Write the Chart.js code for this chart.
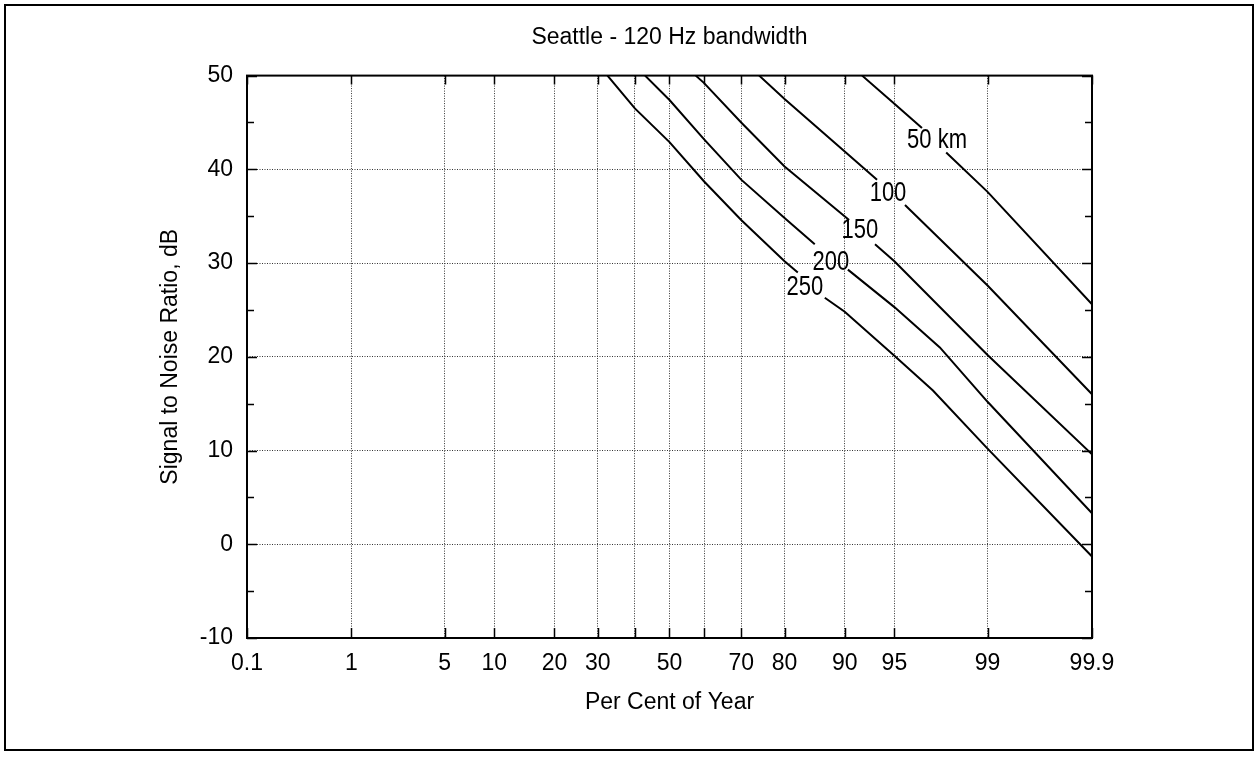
<!DOCTYPE html>
<html>
<head>
<meta charset="utf-8">
<title>Seattle - 120 Hz bandwidth</title>
<script src="https://cdn.jsdelivr.net/npm/chart.js@4.4.1/dist/chart.umd.min.js"></script>
<style>
    html, body { margin: 0; padding: 0; background: #fff; }
    #wrap { position: relative; width: 1260px; height: 759px; }
</style>
</head>
<body>
<div id="wrap"><canvas id="snrChart"></canvas></div>
<script>
// Per cent of year (x) and signal to noise ratio in dB (y).
// A null value marks the gap where the curve label sits.
const pct50 = [92.05, 95, 96.76, 97.3, 97.85, 99, 99.9];
const snr50 = [50, 47.0, 44.4, null, 41.8, 37.6, 25.6];

const pct100 = [74.4, 80, 90, 93.55, 94.7, 95.75, 99, 99.9];
const snr100 = [50, 47.5, 41.9, 38.9, null, 36.2, 27.6, 16.0];

const pct150 = [57.6, 60, 70, 80, 90.55, 92, 93.36, 95, 99, 99.9];
const snr150 = [50, 49.2, 45.0, 40.3, 34.6, null, 32.0, 30.2, 20.2, 9.6];

const pct200 = [42.9, 50, 60, 70, 80, 85.6, 88, 90.4, 95, 97.6, 99, 99.9];
const snr200 = [50, 47.4, 43.2, 38.9, 34.8, 32.0, null, 29.3, 25.3, 21.0, 15.2, 3.3];

const pct250 = [32.5, 40, 50, 60, 70, 80, 82.6, 85, 87.2, 90, 95, 97.3, 99, 99.9];
const snr250 = [50, 46.5, 42.9, 38.7, 34.6, 30.2, 29.0, null, 26.3, 24.8, 20.1, 16.4, 10.2, -1.3];

// curve labels
const curveLabels = ['50 km', '100', '150', '200', '250'];
const labelPct = [97.48, 94.5, 91.82, 88.1, 83.9];
const labelSnr = [43.1, 37.4, 33.45, 30.1, 27.4];

// axis ticks
const xTickValues = [0.1, 1, 5, 10, 20, 30, 40, 50, 60, 70, 80, 90, 95, 99, 99.9];
const xTickLabels = ['0.1', '1', '5', '10', '20', '30', '', '50', '', '70', '80', '90', '95', '99', '99.9'];
const yMin = -10;
const yMax = 50;

const FONT = "'Liberation Sans', Arial, sans-serif";
const GRID = '#333';

// inverse of the standard normal cdf (Acklam)
function probit(p) {
    const a = [-3.969683028665376e+01, 2.209460984245205e+02, -2.759285104469687e+02, 1.383577518672690e+02, -3.066479806614716e+01, 2.506628277459239e+00];
    const b = [-5.447609879822406e+01, 1.615858368580409e+02, -1.556989798598866e+02, 6.680131188771972e+01, -1.328068155288572e+01];
    const c = [-7.784894002430293e-03, -3.223964580411365e-01, -2.400758277161838e+00, -2.549732539343734e+00, 4.374664141464968e+00, 2.938163982698783e+00];
    const d = [7.784695709041462e-03, 3.224671290700398e-01, 2.445134137142996e+00, 3.754408661907416e+00];
    const pl = 0.02425;
    let q, r;
    if (p < pl) {
        q = Math.sqrt(-2 * Math.log(p));
        return (((((c[0]*q+c[1])*q+c[2])*q+c[3])*q+c[4])*q+c[5]) / ((((d[0]*q+d[1])*q+d[2])*q+d[3])*q+1);
    }
    if (p > 1 - pl) {
        q = Math.sqrt(-2 * Math.log(1 - p));
        return -(((((c[0]*q+c[1])*q+c[2])*q+c[3])*q+c[4])*q+c[5]) / ((((d[0]*q+d[1])*q+d[2])*q+d[3])*q+1);
    }
    q = p - 0.5;
    r = q * q;
    return (((((a[0]*r+a[1])*r+a[2])*r+a[3])*r+a[4])*r+a[5])*q / (((((b[0]*r+b[1])*r+b[2])*r+b[3])*r+b[4])*r+1);
}

function normCdf(z) {
    const t = 1 / (1 + 0.2316419 * Math.abs(z));
    const poly = t * (0.319381530 + t * (-0.356563782 + t * (1.781477937 + t * (-1.821255978 + t * 1.330274429))));
    const v = 1 - Math.exp(-z * z / 2) / Math.sqrt(2 * Math.PI) * poly;
    return z >= 0 ? v : 1 - v;
}

// normal probability axis for "per cent of year"
class ProbabilityScale extends Chart.Scale {
    determineDataLimits() {
        const bounds = this.getUserBounds();
        this.min = bounds.min;
        this.max = bounds.max;
    }
    buildTicks() {
        return xTickValues.map(v => ({ value: v }));
    }
    getLabelForValue(value) {
        return String(value);
    }
    getPixelForValue(value) {
        const z0 = probit(this.min / 100);
        const z1 = probit(this.max / 100);
        return this.getPixelForDecimal((probit(value / 100) - z0) / (z1 - z0));
    }
    getValueForPixel(pixel) {
        const z0 = probit(this.min / 100);
        const z1 = probit(this.max / 100);
        return normCdf(z0 + this.getDecimalForPixel(pixel) * (z1 - z0)) * 100;
    }
}
ProbabilityScale.id = 'probability';
ProbabilityScale.defaults = {};
Chart.register(ProbabilityScale);

function toPoints(xs, ys) {
    return xs.map((x, i) => ({ x: x, y: ys[i] }));
}

function curve(label, xs, ys) {
    return {
        label: label,
        data: toPoints(xs, ys),
        borderColor: '#000',
        borderWidth: 2,
        pointRadius: 0,
        tension: 0,
        fill: false,
        spanGaps: false
    };
}

// outer border, plot frame and inward tick marks
const framePlugin = {
    id: 'frame',
    beforeDraw(chart) {
        const ctx = chart.ctx;
        ctx.save();
        ctx.fillStyle = '#fff';
        ctx.fillRect(0, 0, chart.width, chart.height);
        ctx.strokeStyle = '#000';
        ctx.lineWidth = 2;
        ctx.strokeRect(5, 5, chart.width - 12, chart.height - 14);
        ctx.restore();
    },
    afterDraw(chart) {
        const { ctx, chartArea: a } = chart;
        const xs = chart.scales.x;
        const ys = chart.scales.y;
        ctx.save();
        ctx.strokeStyle = '#000';
        ctx.lineWidth = 2;
        ctx.strokeRect(a.left, a.top, a.right - a.left, a.bottom - a.top);
        ctx.lineWidth = 1.5;
        ctx.beginPath();
        xs.ticks.forEach(t => {
            const px = Math.round(xs.getPixelForValue(t.value)) + 0.5;
            ctx.moveTo(px, a.bottom); ctx.lineTo(px, a.bottom - 10);
            ctx.moveTo(px, a.top); ctx.lineTo(px, a.top + 9);
        });
        ys.ticks.forEach(t => {
            const py = Math.round(ys.getPixelForValue(t.value)) + 0.5;
            const len = t.value % 10 === 0 ? 10 : 7;
            ctx.moveTo(a.left, py); ctx.lineTo(a.left + len, py);
            ctx.moveTo(a.right, py); ctx.lineTo(a.right - len, py);
        });
        ctx.stroke();
        ctx.restore();
    }
};

// curve labels placed in data units
const curveLabelPlugin = {
    id: 'curveLabels',
    afterDatasetsDraw(chart) {
        const ctx = chart.ctx;
        const xs = chart.scales.x;
        const ys = chart.scales.y;
        ctx.save();
        ctx.fillStyle = '#000';
        ctx.font = '22px ' + FONT;
        ctx.textAlign = 'center';
        ctx.textBaseline = 'middle';
        curveLabels.forEach((txt, i) => {
            ctx.save();
            ctx.translate(xs.getPixelForValue(labelPct[i]), ys.getPixelForValue(labelSnr[i]));
            ctx.scale(1, 1.22);
            ctx.fillText(txt, 0, 0);
            ctx.restore();
        });
        ctx.restore();
    }
};

document.addEventListener('DOMContentLoaded', function() {
    const ctx = document.getElementById('snrChart').getContext('2d');
    Chart.defaults.font.family = FONT;
    Chart.defaults.color = '#000';

    new Chart(ctx, {
        type: 'line',
        data: {
            datasets: [
                curve('50 km', pct50, snr50),
                curve('100 km', pct100, snr100),
                curve('150 km', pct150, snr150),
                curve('200 km', pct200, snr200),
                curve('250 km', pct250, snr250)
            ]
        },
        options: {
            responsive: true,
            maintainAspectRatio: false,
            animation: false,
            layout: { padding: { left: 0, top: 0, right: 168, bottom: 0 } },
            plugins: {
                legend: { display: false },
                tooltip: { enabled: false },
                title: {
                    display: true,
                    text: 'Seattle - 120 Hz bandwidth',
                    fullSize: false,
                    color: '#000',
                    font: { size: 23, weight: 'normal' },
                    padding: { top: 24, bottom: 24 }
                }
            },
            scales: {
                x: {
                    type: 'probability',
                    min: 0.1,
                    max: 99.9,
                    afterFit(scale) { scale.height = 121; },
                    border: { display: false, dash: [1, 1.5] },
                    grid: {
                        drawTicks: false,
                        lineWidth: 1,
                        color: (c) => (c.tick && (c.tick.value === 0.1 || c.tick.value === 99.9)) ? 'rgba(0,0,0,0)' : GRID
                    },
                    ticks: {
                        autoSkip: false,
                        maxRotation: 0,
                        padding: 12,
                        font: { size: 23 },
                        callback: (value, index) => xTickLabels[index]
                    },
                    title: {
                        display: true,
                        text: 'Per Cent of Year',
                        font: { size: 23 },
                        padding: { top: 0, bottom: 43 }
                    }
                },
                y: {
                    type: 'linear',
                    min: yMin,
                    max: yMax,
                    afterFit(scale) { scale.width = 247; },
                    border: { display: false, dash: [1, 1.5] },
                    grid: {
                        drawTicks: false,
                        lineWidth: 1,
                        color: (c) => {
                            const v = c.tick ? c.tick.value : 0;
                            if (v === yMin || v === yMax || v % 10 !== 0) return 'rgba(0,0,0,0)';
                            return GRID;
                        }
                    },
                    ticks: {
                        stepSize: 5,
                        padding: 14,
                        font: { size: 23 },
                        callback: (value) => value % 10 === 0 ? String(value) : ''
                    },
                    title: {
                        display: true,
                        text: 'Signal to Noise Ratio, dB',
                        font: { size: 23 },
                        padding: { top: 157, bottom: 0 }
                    }
                }
            }
        },
        plugins: [framePlugin, curveLabelPlugin]
    });
});
</script>
</body>
</html>
